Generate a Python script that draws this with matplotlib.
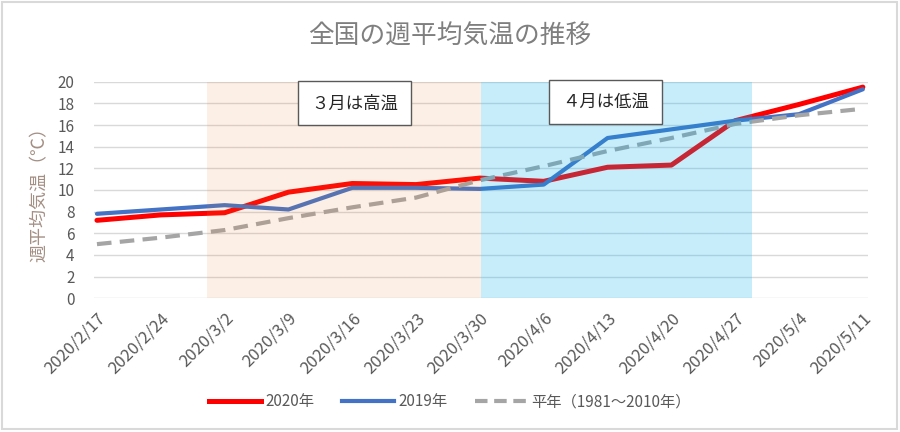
import matplotlib
matplotlib.use("Agg")
import matplotlib.pyplot as plt
from matplotlib.patches import Rectangle
from matplotlib.lines import Line2D

plt.rcParams['font.family'] = ['Noto Sans CJK JP', 'DejaVu Sans']

# weekly mean temperature (nationwide)
dates = ["2020/2/17", "2020/2/24", "2020/3/2", "2020/3/9", "2020/3/16", "2020/3/23",
         "2020/3/30", "2020/4/6", "2020/4/13", "2020/4/20", "2020/4/27", "2020/5/4", "2020/5/11"]
temp_2020 = [7.2, 7.7, 7.9, 9.8, 10.6, 10.5, 11.1, 10.8, 12.1, 12.3, 16.4, 17.9, 19.5]
temp_2019 = [7.8, 8.2, 8.6, 8.2, 10.2, 10.2, 10.1, 10.5, 14.8, 15.6, 16.4, 17.0, 19.3]
temp_normal = [5.0, 5.6, 6.3, 7.4, 8.4, 9.3, 10.9, 12.2, 13.6, 14.8, 16.1, 16.9, 17.5]

# highlighted periods (category index units)
march_span = (1.72, 6.02)
april_span = (6.02, 10.27)

TXT = '#595959'

fig = plt.figure(figsize=(9, 4.32), dpi=100)
fig.patches.append(Rectangle((0.002, 0.007), 0.995, 0.989, transform=fig.transFigure,
                             fill=False, edgecolor='#D9D9D9', linewidth=1.5))
ax = fig.add_axes([0.1044, 0.3095, 0.860, 0.5014])

x = list(range(len(dates)))
ax.plot(x, temp_2020, color='#FF0000', lw=3.6, zorder=2, solid_capstyle='round')
ax.plot(x, temp_2019, color='#4472C4', lw=3.0, zorder=2, solid_capstyle='round')
ax.plot(x, temp_normal, color='#A5A5A5', lw=3.0, zorder=2, dashes=(3.5, 2))

# shaded periods drawn over the lines, like the original
ax.axvspan(*march_span, color='#ED7D31', alpha=0.12, lw=0, zorder=3)
ax.axvspan(*april_span, color='#00B0F0', alpha=0.22, lw=0, zorder=3)

box = dict(boxstyle='square,pad=0.75', facecolor='white', edgecolor=TXT, linewidth=1)
ax.text(4.03, 18.0, "３月は高温", ha='center', va='center', fontsize=12.5, color='#262626',
        bbox=box, zorder=5)
ax.text(7.97, 18.15, "４月は低温", ha='center', va='center', fontsize=12.5, color='#262626',
        bbox=box, zorder=5)

ax.set_xlim(-0.047, 12.08)
ax.set_ylim(0, 20)
ax.set_yticks(range(0, 21, 2))
ax.set_xticks(x)
ax.set_xticklabels(dates, rotation=45, ha='right', rotation_mode='anchor')
ax.tick_params(axis='both', length=0, colors=TXT, labelsize=11)
ax.tick_params(axis='x', labelsize=12, pad=8)
ax.tick_params(axis='y', pad=14)
ax.grid(axis='y', color='#D9D9D9', lw=1)
ax.set_axisbelow(True)
for s in ax.spines.values():
    s.set_visible(False)

ax.set_ylabel("週平均気温（℃）", color='#A48F84', fontsize=13, labelpad=6)
fig.suptitle("全国の週平均気温の推移", y=0.945, fontsize=18.5, color='#7F7F7F')

handles = [Line2D([], [], color='#FF0000', lw=3.6),
           Line2D([], [], color='#4472C4', lw=3.0),
           Line2D([], [], color='#A5A5A5', lw=3.0, dashes=(3.0, 1.6))]
fig.legend(handles, ["2020年", "2019年", "平年（1981～2010年）"], loc='center',
           bbox_to_anchor=(0.5, 0.07), ncol=3, frameon=False, fontsize=11,
           labelcolor=TXT, handlelength=3.4, handletextpad=0.3, columnspacing=1.8)

fig.savefig("out.png", dpi=100)
